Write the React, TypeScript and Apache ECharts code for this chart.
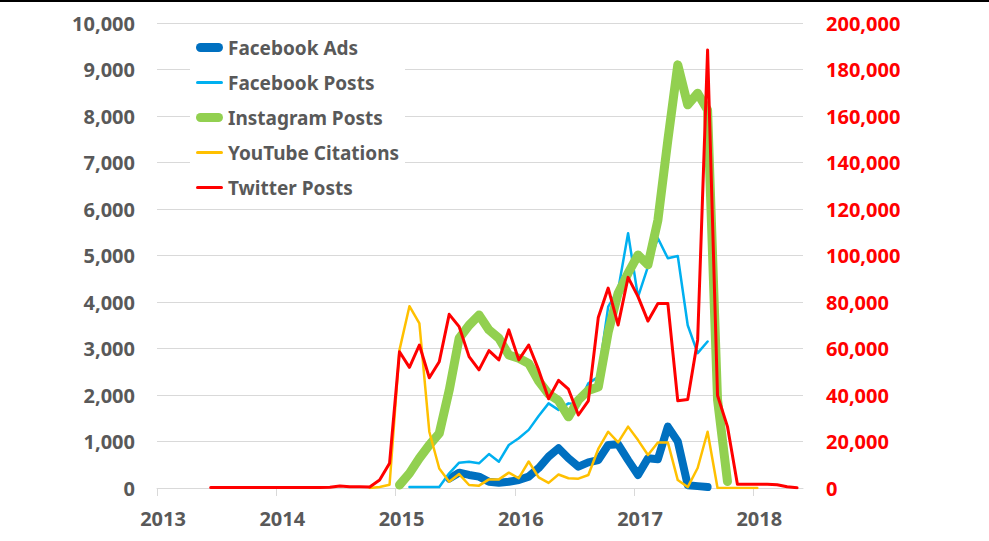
import React, { useEffect, useRef } from "react";
import * as echarts from "echarts";

// Months are counted from January 2013 (index 0)
const yearLabels = ["2013", "2014", "2015", "2016", "2017", "2018"];
const yearTickMonths = [0, 12, 24, 36, 48, 60];

const facebookAdsStart = 29;
const facebookAds = [200, 330, 280, 245, 135, 115, 135, 170, 245, 430, 675, 855, 640, 460, 550, 600, 925, 940, 600, 280, 640, 620, 1320, 1000, 60, 40, 20];

const facebookPostsStart = 25;
const facebookPosts = [20, 20, 20, 20, 315, 545, 566, 530, 730, 566, 925, 1070, 1250, 1550, 1820, 1680, 1820, 1800, 2250, 2390, 3900, 4260, 5480, 4110, 4760, 5370, 4940, 4990, 3500, 2900, 3150];

const instagramStart = 24;
const instagramPosts = [65, 315, 640, 925, 1175, 2100, 3220, 3500, 3720, 3400, 3220, 2860, 2790, 2680, 2300, 2020, 1880, 1530, 1890, 2100, 2170, 3350, 4190, 4620, 5010, 4800, 5760, 7480, 9100, 8240, 8490, 8130, 1900, 140];

const youtubeStart = 21;
const youtubeCitations = [0, 20, 70, 2970, 3910, 3540, 1210, 420, 135, 300, 65, 50, 185, 185, 330, 210, 570, 230, 110, 290, 210, 200, 280, 840, 1210, 980, 1320, 1030, 710, 980, 980, 170, 20, 430, 1210, 0, 0, 0, 0, 0];

const twitterStart = 5;
const twitterPosts = [200, 200, 200, 200, 200, 200, 200, 200, 200, 200, 200, 200, 300, 900, 500, 500, 400, 3400, 10600, 58600, 51900, 61500, 47400, 54300, 74700, 69400, 56500, 50800, 59100, 55100, 68000, 55100, 61500, 50800, 38400, 46300, 42500, 31400, 37500, 73300, 86000, 70100, 90600, 82300, 71800, 79400, 79400, 37500, 38100, 63700, 188400, 39800, 26400, 1600, 1600, 1600, 1600, 1400, 500, 100];

const MONTH_OFFSET = 0.4;
const toPoints = (start: number, values: number[]) =>
  values.map((v, i) => [start + i + MONTH_OFFSET, v]);

const fmt = (v: number) => String(v).replace(/\B(?=(\d{3})+(?!\d))/g, ",");

const FONT = "'Noto Sans', 'Open Sans', sans-serif";
const GRAY = "#595959";

const THICK_ICON = "path://M4.5,0 L22.5,0 A4.5,4.5 0 0 1 22.5,9 L4.5,9 A4.5,4.5 0 0 1 4.5,0 Z";
const THIN_ICON = "path://M1.5,0 L25.5,0 A1.5,1.5 0 0 1 25.5,3 L1.5,3 A1.5,1.5 0 0 1 1.5,0 Z";

export default function App() {
  const ref = useRef<HTMLDivElement>(null);
  useEffect(() => {
    if (!ref.current) return;
    const chart = echarts.init(ref.current, undefined, { renderer: "svg" });
    const mk = (name: string, color: string, width: number, axis: number, data: number[][]) => ({
      name,
      type: "line",
      yAxisIndex: axis,
      data,
      symbol: "none",
      showSymbol: false,
      itemStyle: { color },
      lineStyle: { color, width, cap: "round", join: "round" },
    });
    chart.setOption({
      animation: false,
      backgroundColor: "#ffffff",
      grid: { left: 157, right: 186, top: 23, bottom: 53 },
      legend: {
        orient: "vertical",
        left: 190,
        top: 33,
        padding: [5, 6, 5, 6],
        backgroundColor: "#ffffff",
        itemWidth: 27,
        itemHeight: 14,
        itemGap: 16,
        textStyle: { color: GRAY, fontSize: 19, fontWeight: "bold", fontFamily: FONT },
        data: [
          { name: "Facebook Ads", icon: THICK_ICON },
          { name: "Facebook Posts", icon: THIN_ICON },
          { name: "Instagram Posts", icon: THICK_ICON },
          { name: "YouTube Citations", icon: THIN_ICON },
          { name: "Twitter Posts", icon: THIN_ICON },
        ],
      },
      xAxis: {
        type: "value",
        min: 0,
        max: 65,
        axisLine: { show: true, lineStyle: { color: "#d9d9d9", width: 1 } },
        axisTick: { show: true, customValues: yearTickMonths, length: 8, lineStyle: { color: "#d9d9d9" } },
        axisLabel: {
          customValues: yearTickMonths,
          formatter: (v: number) => yearLabels[Math.round(v / 12)] ?? "",
          color: GRAY,
          fontSize: 20,
          fontWeight: "bold",
          fontFamily: FONT,
          margin: 20,
          padding: [0, 0, 0, 12],
        },
        splitLine: { show: false },
      },
      yAxis: [
        {
          type: "value",
          min: 0,
          max: 10000,
          interval: 1000,
          position: "left",
          axisLine: { show: false },
          axisTick: { show: false },
          axisLabel: { formatter: (v: number) => fmt(v), color: GRAY, fontSize: 20, fontWeight: "bold", fontFamily: FONT, margin: 22 },
          splitLine: { lineStyle: { color: "#d9d9d9", width: 1 } },
        },
        {
          type: "value",
          min: 0,
          max: 200000,
          interval: 20000,
          position: "right",
          axisLine: { show: false },
          axisTick: { show: false },
          axisLabel: { formatter: (v: number) => fmt(v), color: "#ff0000", fontSize: 20, fontWeight: "bold", fontFamily: FONT, margin: 23 },
          splitLine: { show: false },
        },
      ],
      graphic: [
        { type: "rect", left: 0, top: 0, shape: { width: 989, height: 2 }, style: { fill: "#000000" }, silent: true },
      ],
      series: [
        mk("Facebook Ads", "#0070c0", 8, 0, toPoints(facebookAdsStart, facebookAds)),
        mk("Facebook Posts", "#00b0f0", 2.5, 0, toPoints(facebookPostsStart, facebookPosts)),
        mk("Instagram Posts", "#92d050", 9, 0, toPoints(instagramStart, instagramPosts)),
        mk("YouTube Citations", "#ffc000", 2.5, 0, toPoints(youtubeStart, youtubeCitations)),
        mk("Twitter Posts", "#ff0000", 3, 1, toPoints(twitterStart, twitterPosts)),
      ],
    });
    return () => chart.dispose();
  }, []);
  return (
    <div
      ref={ref}
      style={{ position: "absolute", left: 0, top: 0, width: 989, height: 541, background: "#fff" }}
    />
  );
}
